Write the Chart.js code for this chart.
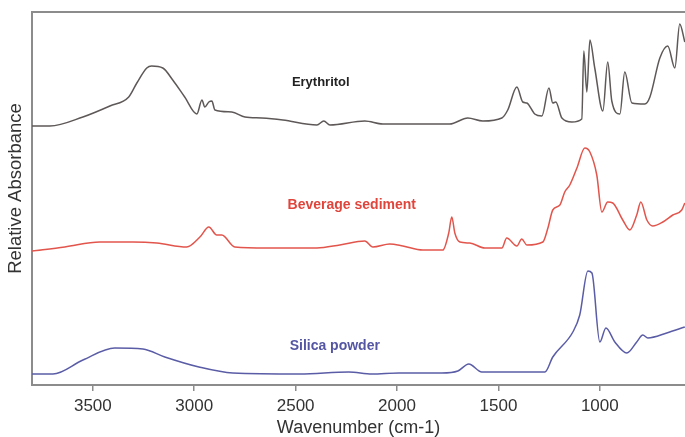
<!DOCTYPE html>
<html>
<head>
<meta charset="utf-8">
<script src="https://cdn.jsdelivr.net/npm/chart.js@4/dist/chart.umd.min.js"></script>
<style>
html,body{margin:0;padding:0;background:#fff;}
#wrap{width:685px;height:437px;position:relative;}
</style>
</head>
<body>
<div id="wrap"><canvas id="c" width="685" height="437"></canvas></div>
<script>
// Wavenumber tick labels
const xTicks = [3500, 3000, 2500, 2000, 1500, 1000];

// Erythritol spectrum (wavenumber, relative absorbance in arbitrary units)
const erythritolWn = [3801,3712,3549,3416,3323,3283,3234,3210,3155,3106,3047,2987,2962,2948,2928,2913,2898,2815,2750,2667,2563,2395,2361,2331,2159,2070,1902,1740,1651,1577,1483,1454,1409,1380,1360,1321,1286,1251,1232,1217,1187,1138,1089,1079,1064,1049,1025,985,961,941,901,877,842,778,753,704,665,630,606,581];
const erythritolAbs = [259,259,268,279,288,302,317,319,317,305,288,271,285,278,283,284,275,273,268,267,265,260,264,260,264,261,261,261,267,264,267,275,298,283,282,271,269,297,282,283,267,263,266,334,293,345,317,274,323,284,271,313,282,281,288,327,339,317,361,343];

// Beverage sediment spectrum
const beverageWn = [3801,3638,3466,3303,3184,3037,2972,2928,2889,2864,2800,2642,2395,2282,2159,2119,2036,1971,1873,1774,1745,1730,1715,1690,1641,1567,1483,1459,1409,1385,1360,1281,1256,1232,1197,1173,1148,1113,1074,1049,1015,990,961,936,887,852,818,798,768,739,689,640,596,581];
const beverageAbs = [134,138,143,143,142,138,148,158,150,150,138,137,137,140,144,138,141,139,135,135,152,168,152,143,142,137,137,147,139,146,140,143,157,175,180,193,200,217,237,233,210,173,183,182,165,155,170,183,165,159,163,170,175,182];

// Silica powder spectrum
const silicaWn = [3801,3697,3549,3392,3253,3145,2977,2810,2479,2238,2124,1991,1779,1700,1646,1582,1271,1232,1133,1099,1059,1039,1000,970,926,867,818,788,763,670,581];
const silicaAbs = [11,11,25,37,36,28,18,12,11,13,11,12,12,14,21,13,13,28,53,70,114,112,43,57,43,32,43,50,47,52,58];

const seriesNames = ["Erythritol", "Beverage sediment", "Silica powder"];
const seriesColors = ["#5e5858", "#e2554c", "#5a5ca6"];
const labelColors = ["#222222", "#e0453c", "#5456a3"];
const labelSizes = [13, 14, 14];
// label anchors (wavenumber, absorbance units)
const labelAnchors = [[2376, 303], [2223, 180], [2307, 39]];
const yTitle = 'Relative Absorbance';
const FONT = '"Liberation Sans", Arial, sans-serif';

function pts(wn, ab){ return wn.map((w,i)=>({x:w, y:ab[i]})); }

const inlineLabels = {
  id: 'inlineLabels',
  afterDatasetsDraw(chart){
    const {ctx, scales:{x,y}, chartArea} = chart;
    ctx.save();
    // top frame line
    ctx.strokeStyle = '#8c8c8c';
    ctx.lineWidth = 2;
    ctx.beginPath();
    ctx.moveTo(chartArea.left - 1, chartArea.top);
    ctx.lineTo(chartArea.right, chartArea.top);
    ctx.stroke();
    ctx.textAlign = 'center';
    ctx.textBaseline = 'middle';
    seriesNames.forEach((n,i)=>{
      ctx.font = 'bold ' + labelSizes[i] + 'px ' + FONT;
      ctx.fillStyle = labelColors[i];
      ctx.fillText(n, x.getPixelForValue(labelAnchors[i][0]), y.getPixelForValue(labelAnchors[i][1]));
    });
    // y axis title
    ctx.translate(15.5, (chartArea.top + chartArea.bottom) / 2 - 10);
    ctx.rotate(-Math.PI / 2);
    ctx.font = '18.5px ' + FONT;
    ctx.fillStyle = '#333';
    ctx.fillText(yTitle, 0, 0);
    ctx.restore();
  }
};

new Chart(document.getElementById('c'), {
  type: 'line',
  data: {
    datasets: [
      {label: seriesNames[0], data: pts(erythritolWn, erythritolAbs), borderColor: seriesColors[0]},
      {label: seriesNames[1], data: pts(beverageWn, beverageAbs), borderColor: seriesColors[1]},
      {label: seriesNames[2], data: pts(silicaWn, silicaAbs), borderColor: seriesColors[2]}
    ]
  },
  options: {
    responsive: false,
    animation: false,
    events: [],
    layout: {padding: {top: 12, right: 0, left: 0, bottom: 0}},
    elements: {
      point: {radius: 0},
      line: {borderWidth: 1.5, cubicInterpolationMode: 'monotone', fill: false}
    },
    plugins: {legend: {display: false}, tooltip: {enabled: false}},
    scales: {
      x: {
        type: 'linear',
        reverse: true,
        min: 580,
        max: 3800,
        afterBuildTicks: s => { s.ticks = xTicks.map(v => ({value: v})); },
        afterFit: s => { s.height = 52; },
        ticks: {
          color: '#333',
          font: {family: FONT, size: 17},
          padding: 5,
          maxRotation: 0,
          autoSkip: false,
          callback: v => String(v)
        },
        grid: {drawOnChartArea: false, drawTicks: true, tickLength: 6, color: '#8c8c8c', lineWidth: 1.5},
        border: {display: true, color: '#8c8c8c', width: 2},
        title: {
          display: true,
          text: 'Wavenumber (cm-1)',
          color: '#333',
          font: {family: FONT, size: 18, lineHeight: 1},
          padding: {top: 0, bottom: 0}
        }
      },
      y: {
        min: 0,
        max: 373,
        afterFit: s => { s.width = 32; },
        ticks: {display: false},
        grid: {display: false},
        border: {display: true, color: '#8c8c8c', width: 2},
        title: {display: false}
      }
    }
  },
  plugins: [inlineLabels]
});
</script>
</body>
</html>
